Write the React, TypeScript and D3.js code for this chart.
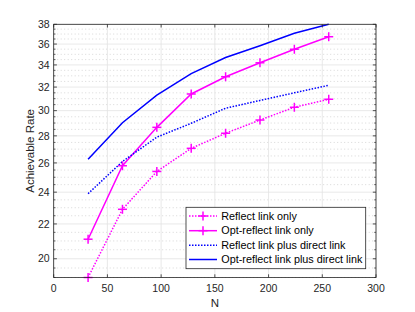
import * as d3 from 'd3';

const W = 415, H = 312;
const MARGIN = { top: 24.3, right: 39, bottom: 34.5, left: 53.7 };

// data
const nValues = [32, 64, 96, 128, 160, 192, 224, 256];
const reflectOnly = [19.0, 22.9, 25.4, 27.06, 28.2, 29.24, 30.28, 30.95];
const optReflectOnly = [21.1, 25.8, 28.66, 31.4, 32.92, 34.2, 35.49, 36.73];
const reflectDirect = [23.9, 26.1, 27.9, 28.98, 30.2, 30.85, 31.5, 32.16];
const optReflectDirect = [26.26, 29.02, 31.3, 33.2, 34.7, 35.84, 37.08, 38.0];

const xTicks = [0, 50, 100, 150, 200, 250, 300];
const yTicks = [20, 22, 24, 26, 28, 30, 32, 34, 36, 38];
const yMinor = d3.range(19, 38.01, 0.5).filter(v => !yTicks.includes(v));

const seriesList = [
  { name: 'Reflect link only', values: reflectOnly, color: '#ff00ff', dash: '1.5,1.5', marker: true },
  { name: 'Opt-reflect link only', values: optReflectOnly, color: '#ff00ff', dash: null, marker: true },
  { name: 'Reflect link plus direct link', values: reflectDirect, color: '#0000ff', dash: '1.5,1.5', marker: false },
  { name: 'Opt-reflect link plus direct link', values: optReflectDirect, color: '#0000ff', dash: null, marker: false },
];

const FONT = 'Liberation Sans, Arial, Helvetica, sans-serif';
const AXIS = '#262626';

const Plus = ({ x, y, color }: { x: number; y: number; color: string }) => (
  <g stroke={color} strokeWidth={1.5}>
    <line x1={x - 4.5} x2={x + 4.5} y1={y} y2={y} />
    <line x1={x} x2={x} y1={y - 4.5} y2={y + 4.5} />
  </g>
);

export default function App() {
  const x0 = MARGIN.left, x1 = W - MARGIN.right;
  const y0 = MARGIN.top, y1 = H - MARGIN.bottom;

  const xScale = d3.scaleLinear().domain([0, 300]).range([x0, x1]);
  const yScale = d3.scaleLog().domain([19, 38]).range([y1, y0]);

  const line = d3
    .line<number>()
    .x((_, i) => xScale(nValues[i]))
    .y(d => yScale(d));

  // legend box
  const lg = { x: 186, y: 207.3, w: 179.7, h: 61.4 };
  const rowY = [216, 230.7, 245.3, 259.5];

  return (
    <svg width={W} height={H} style={{ position: 'absolute', left: 0, top: 0 }} fontFamily={FONT}>
      <rect width={W} height={H} fill="#fff" />
      <defs>
        <clipPath id="plotclip">
          <rect x={x0} y={y0 - 2} width={x1 - x0} height={y1 - y0 + 4} />
        </clipPath>
      </defs>

      {/* minor grid */}
      {yMinor.map(v => (
        <line key={'m' + v} x1={x0} x2={x1} y1={yScale(v)} y2={yScale(v)}
          stroke="#bdbdbd" strokeWidth={0.6} strokeDasharray="1,2.5" />
      ))}
      {/* major grid */}
      {yTicks.map(v => (
        <line key={'g' + v} x1={x0} x2={x1} y1={yScale(v)} y2={yScale(v)} stroke="#e3e3e3" strokeWidth={0.8} />
      ))}
      {xTicks.map(v => (
        <line key={'gx' + v} x1={xScale(v)} x2={xScale(v)} y1={y0} y2={y1} stroke="#e3e3e3" strokeWidth={0.8} />
      ))}

      {/* series */}
      <g clipPath="url(#plotclip)">
        {seriesList.map(s => (
          <path key={s.name} d={line(s.values) ?? ''} fill="none" stroke={s.color}
            strokeWidth={1.5} strokeDasharray={s.dash ?? undefined} />
        ))}
      </g>
      {seriesList.filter(s => s.marker).map(s =>
        s.values.map((v, i) => (
          <Plus key={s.name + i} x={xScale(nValues[i])} y={yScale(v)} color={s.color} />
        ))
      )}

      {/* axes box */}
      <rect x={x0} y={y0} width={x1 - x0} height={y1 - y0} fill="none" stroke={AXIS} strokeWidth={0.8} />
      {xTicks.map(v => (
        <g key={'xt' + v}>
          <line x1={xScale(v)} x2={xScale(v)} y1={y1} y2={y1 - 3.2} stroke={AXIS} strokeWidth={0.8} />
          <line x1={xScale(v)} x2={xScale(v)} y1={y0} y2={y0 + 3.2} stroke={AXIS} strokeWidth={0.8} />
          <text x={xScale(v)} y={y1 + 14.5} textAnchor="middle" fontSize={10.5} fill={AXIS}>{v}</text>
        </g>
      ))}
      {yTicks.map(v => (
        <g key={'yt' + v}>
          <line x1={x0} x2={x0 + 3.2} y1={yScale(v)} y2={yScale(v)} stroke={AXIS} strokeWidth={0.8} />
          <line x1={x1} x2={x1 - 3.2} y1={yScale(v)} y2={yScale(v)} stroke={AXIS} strokeWidth={0.8} />
          <text x={x0 - 4} y={yScale(v)} dy="0.35em" textAnchor="end" fontSize={10.5} fill={AXIS}>{v}</text>
        </g>
      ))}
      {yMinor.map(v => (
        <g key={'ym' + v}>
          <line x1={x0} x2={x0 + 1.8} y1={yScale(v)} y2={yScale(v)} stroke={AXIS} strokeWidth={0.7} />
          <line x1={x1} x2={x1 - 1.8} y1={yScale(v)} y2={yScale(v)} stroke={AXIS} strokeWidth={0.7} />
        </g>
      ))}

      {/* axis labels */}
      <text x={(x0 + x1) / 2} y={306.5} textAnchor="middle" fontSize={11.5} fill={AXIS}>N</text>
      <text transform={`translate(34,${(y0 + y1) / 2}) rotate(-90)`} textAnchor="middle" fontSize={11.5} fill={AXIS}>
        Achievable Rate
      </text>

      {/* legend */}
      <rect x={lg.x} y={lg.y} width={lg.w} height={lg.h} fill="#fff" stroke={AXIS} strokeWidth={0.8} />
      {seriesList.map((s, i) => (
        <g key={'lg' + i}>
          <line x1={189} x2={217} y1={rowY[i]} y2={rowY[i]} stroke={s.color} strokeWidth={1.5}
            strokeDasharray={s.dash ?? undefined} />
          {s.marker && <Plus x={203} y={rowY[i]} color={s.color} />}
          <text x={221.3} y={rowY[i]} dy="0.35em" fontSize={10.8} fill="#000">{s.name}</text>
        </g>
      ))}
    </svg>
  );
}
